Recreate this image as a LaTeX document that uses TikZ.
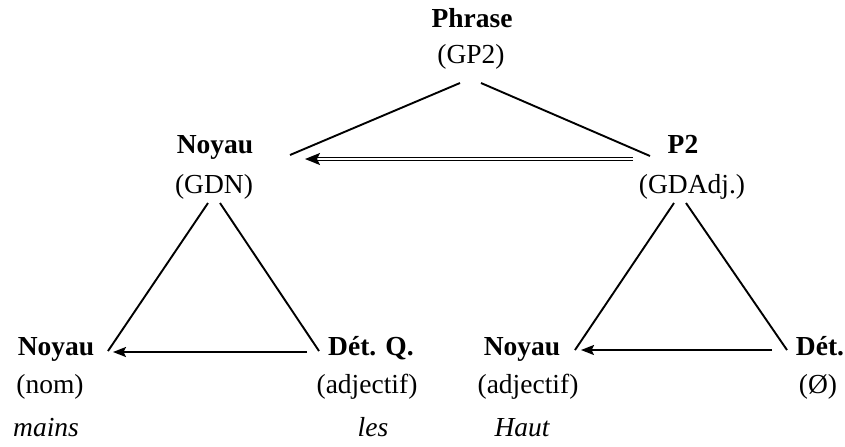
\documentclass[tikz,border=0pt]{standalone}
\usepackage{fontspec}
\setmainfont{Liberation Serif}
\usepackage{tikz}
\usetikzlibrary{arrows.meta, positioning, calc}

\begin{document}
\begin{tikzpicture}[
    x=0.5pt, y=-0.5pt,
    label/.style={inner sep=0pt, anchor=base, font=\fontsize{13.75}{16}\selectfont},
    head/.style={label, font=\fontsize{13.75}{16}\selectfont\bfseries},
    sub/.style={label},
    word/.style={label, font=\fontsize{13.75}{16}\selectfont\itshape},
    branch/.style={line width=0.95pt},
    arrow/.style={line width=0.95pt, -{Stealth[length=6.5pt, width=5pt, inset=1.2pt]}},
    dblarrow/.style={double, line width=0.85pt, double distance=0.7pt, -{Stealth[length=7.5pt, width=6pt, inset=1.5pt]}}
]
\useasboundingbox (0,0) rectangle (845,446);

% top level
\node[head] (phrase) at (472,27) {Phrase};
\node[sub] (gp2) at (471,63) {(GP2)};

% middle level
\node[head] (noyaugdn) at (215,153) {Noyau};
\node[sub] (gdn) at (214,193) {(GDN)};
\node[head] (ptwo) at (683,153) {P2};
\node[sub] (gdadj) at (692,193) {(GDAdj.)};

% bottom level, left
\node[head] (noyaunom) at (56,355) {Noyau};
\node[sub] (nom) at (50,393) {(nom)};
\node[word] (mains) at (46,436) {mains};
\node[head] (detq) at (371,355) {Dét. Q.};
\node[sub] (adjq) at (367,393) {(adjectif)};
\node[word] (les) at (373,436) {les};

% bottom level, right
\node[head] (noyauadj) at (522,355) {Noyau};
\node[sub] (adjn) at (528,393) {(adjectif)};
\node[word] (haut) at (522,436) {Haut};
\node[head] (det) at (820,355) {Dét.};
\node[sub] (vide) at (818,393) {(Ø)};

% connector ends
\coordinate (gp2-l) at (460,83);
\coordinate (gp2-r) at (481,83);
\coordinate (gdn-in) at (290,155);
\coordinate (gdn-tip) at (305,159);
\coordinate (gdadj-in) at (650,156);
\coordinate (gdadj-out) at (633,159);
\coordinate (gdn-l) at (208,203);
\coordinate (gdn-r) at (220,203);
\coordinate (nom-in) at (108,351);
\coordinate (nom-tip) at (113,352);
\coordinate (detq-in) at (319,351);
\coordinate (detq-out) at (307,352);
\coordinate (gdadj-l) at (674,203);
\coordinate (gdadj-r) at (686,203);
\coordinate (adjn-in) at (575,350);
\coordinate (adjn-tip) at (581,350);
\coordinate (det-in) at (787,350);
\coordinate (det-out) at (772,350);

\draw[branch] (gp2-l) -- (gdn-in);
\draw[branch] (gp2-r) -- (gdadj-in);
\draw[dblarrow] (gdadj-out) -- (gdn-tip);

\draw[branch] (gdn-l) -- (nom-in);
\draw[branch] (gdn-r) -- (detq-in);
\draw[arrow] (detq-out) -- (nom-tip);

\draw[branch] (gdadj-l) -- (adjn-in);
\draw[branch] (gdadj-r) -- (det-in);
\draw[arrow] (det-out) -- (adjn-tip);

\end{tikzpicture}
\end{document}
